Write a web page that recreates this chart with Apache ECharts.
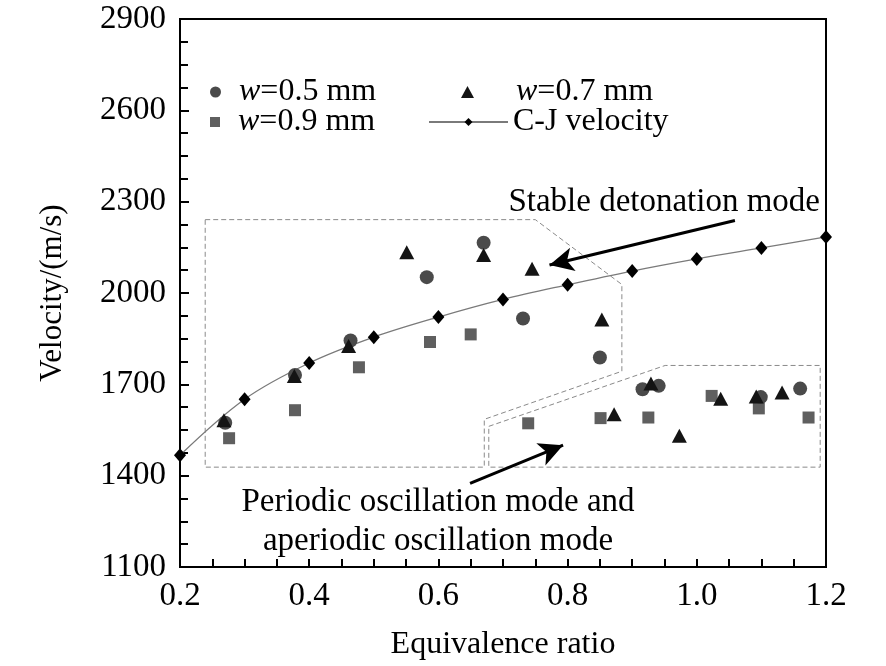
<!DOCTYPE html>
<html><head><meta charset="utf-8">
<script src="https://cdn.jsdelivr.net/npm/echarts@6/dist/echarts.min.js"></script>
<style>html,body{margin:0;padding:0;background:#fff}#c{width:886px;height:666px}</style>
</head><body><div id="c"></div>
<script>
const xTicks = [0.2, 0.4, 0.6, 0.8, 1.0, 1.2];
const yTicks = [1100, 1400, 1700, 2000, 2300, 2600, 2900];
const w05 = [[0.270,1574],[0.378,1731],[0.464,1844],[0.582,2052],[0.670,2165],[0.731,1916],[0.850,1788],[0.916,1684],[0.941,1695],[1.099,1658],[1.160,1686]];
const w07 = [[0.268,1582],[0.377,1727],[0.461,1826],[0.551,2134],[0.670,2125],[0.745,2080],[0.853,1913],[0.872,1602],[0.929,1703],[0.973,1531],[1.037,1653],[1.092,1660],[1.132,1673]];
const w09 = [[0.276,1523],[0.378,1615],[0.477,1756],[0.587,1839],[0.650,1864],[0.739,1572],[0.851,1589],[0.925,1591],[1.023,1662],[1.096,1621],[1.173,1591]];
const cjX = [0.2, 0.3, 0.4, 0.5, 0.6, 0.7, 0.8, 0.9, 1.0, 1.1, 1.2];
const cjV = [1467, 1651, 1770, 1855, 1921, 1979, 2027, 2072, 2112, 2148, 2184];
const stableRegion = [[0.239,2241],[0.750,2241],[0.884,2028],[0.884,1743],[0.671,1585],[0.671,1428],[0.239,1428],[0.239,2241]];
const oscRegion = [[0.678,1562],[0.951,1762],[1.191,1762],[1.191,1428],[0.678,1428],[0.678,1562]];
const stableArrow = [[1.059,2238],[0.772,2092]];
const oscArrow = [[0.649,1375],[0.793,1500]];
const seriesNames = ['w=0.5 mm', 'w=0.7 mm', 'w=0.9 mm', 'C-J velocity'];
const texts = ['Stable detonation mode', 'Periodic oscillation mode and', 'aperiodic oscillation mode'];

const FONT = '"Liberation Serif","Times New Roman",serif';
const chart = echarts.init(document.getElementById('c'), null, {renderer: 'canvas'});
const legendText = (pad) => ({
  color: '#000', fontFamily: FONT, fontSize: 32, padding: [0, 0, 0, pad],
  rich: { i: { fontStyle: 'italic', fontFamily: FONT, fontSize: 32, color: '#000' },
          n: { fontFamily: FONT, fontSize: 32, color: '#000' } }
});
const fmt = (name) => name.startsWith('w=') ? '{i|w}{n|' + name.slice(1) + '}' : name;
const mkLegend = (name, left, top, iw, ih, pad) => ({
  data: [name], left, top, padding: 0, itemWidth: iw, itemHeight: ih,
  selectedMode: false, formatter: fmt, textStyle: legendText(pad)
});
const dashed = { color: '#8a8a8a', width: 1, type: [5, 3] };

chart.setOption({
  animation: false,
  backgroundColor: '#fff',
  grid: { left: 180, right: 60, top: 19, bottom: 98, show: true, borderColor: '#000', borderWidth: 2, containLabel: false },
  legend: [
    mkLegend(seriesNames[0], 210, 76, 11, 11, 13),
    mkLegend(seriesNames[1], 461, 76, 13, 12, 37),
    mkLegend(seriesNames[2], 210, 106, 10, 10, 13),
    mkLegend(seriesNames[3], 428, 106, 79, 10, 0)
  ],
  xAxis: {
    type: 'value', min: xTicks[0], max: xTicks[xTicks.length - 1], interval: 0.2,
    name: 'Equivalence ratio', nameLocation: 'middle', nameGap: 62,
    nameTextStyle: { fontFamily: FONT, fontSize: 32, color: '#000' },
    axisLine: { lineStyle: { color: '#000', width: 2 } },
    axisTick: { inside: true, length: 8, lineStyle: { color: '#000', width: 2 } },
    minorTick: { show: true, splitNumber: 4, length: 8, lineStyle: { color: '#000', width: 2 } },
    axisLabel: { fontFamily: FONT, fontSize: 33, color: '#000', margin: 13,
      formatter: v => xTicks.some(t => Math.abs(t - v) < 1e-6) ? v.toFixed(1) : '' },
    splitLine: { show: false }
  },
  yAxis: {
    type: 'value', min: yTicks[0], max: yTicks[yTicks.length - 1], interval: 300,
    name: 'Velocity/(m/s)', nameLocation: 'middle', nameGap: 112,
    nameTextStyle: { fontFamily: FONT, fontSize: 31, color: '#000' },
    axisLine: { lineStyle: { color: '#000', width: 2 } },
    axisTick: { inside: true, length: 9, lineStyle: { color: '#000', width: 2 } },
    minorTick: { show: true, splitNumber: 4, length: 8, lineStyle: { color: '#000', width: 2 } },
    axisLabel: { fontFamily: FONT, fontSize: 33, color: '#000', margin: 14,
      formatter: v => String(Math.round(v)) },
    splitLine: { show: false }
  },
  series: [
    { name: 'stable-region', type: 'line', data: stableRegion, symbol: 'none', silent: true,
      lineStyle: dashed, z: 1 },
    { name: 'osc-region', type: 'line', data: oscRegion, symbol: 'none', silent: true,
      lineStyle: dashed, z: 1 },
    { name: seriesNames[3], type: 'line', data: cjX.map((x, i) => [x, cjV[i]]), smooth: 0.35,
      symbol: 'diamond', symbolSize: [12, 14], itemStyle: { color: '#000' },
      lineStyle: { color: '#7a7a7a', width: 1.3 }, z: 2 },
    { name: seriesNames[2], type: 'scatter', data: w09, symbol: 'rect', symbolSize: 12,
      itemStyle: { color: '#5f5f5f', opacity: 1 }, z: 3 },
    { name: seriesNames[0], type: 'scatter', data: w05, symbol: 'circle', symbolSize: 14,
      itemStyle: { color: '#4a4a4a', opacity: 1 }, z: 3 },
    { name: seriesNames[1], type: 'scatter', data: w07, symbol: 'triangle', symbolSize: [15, 14],
      itemStyle: { color: '#141414', opacity: 1 }, z: 4 },
    { name: 'arrows', type: 'line', data: [], silent: true, z: 5,
      markLine: {
        silent: true, symbol: ['none', 'arrow'], symbolSize: [18, 24], animation: false,
        label: { show: false },
        lineStyle: { color: '#000', width: 3, type: 'solid' },
        data: [
          [{ coord: stableArrow[0] }, { coord: stableArrow[1] }],
          [{ coord: oscArrow[0] }, { coord: oscArrow[1] }]
        ]
      } }
  ],
  graphic: [
    { type: 'text', x: 820, y: 202, z: 10, style: { text: texts[0], fontFamily: FONT, fontSize: 33, fill: '#000', textAlign: 'right', textVerticalAlign: 'middle', align: 'right', verticalAlign: 'middle' } },
    { type: 'text', x: 438, y: 502, z: 10, style: { text: texts[1], fontFamily: FONT, fontSize: 33, fill: '#000', textAlign: 'center', textVerticalAlign: 'middle', align: 'center', verticalAlign: 'middle' } },
    { type: 'text', x: 438, y: 541, z: 10, style: { text: texts[2], fontFamily: FONT, fontSize: 33, fill: '#000', textAlign: 'center', textVerticalAlign: 'middle', align: 'center', verticalAlign: 'middle' } }
  ]
});
</script></body></html>
